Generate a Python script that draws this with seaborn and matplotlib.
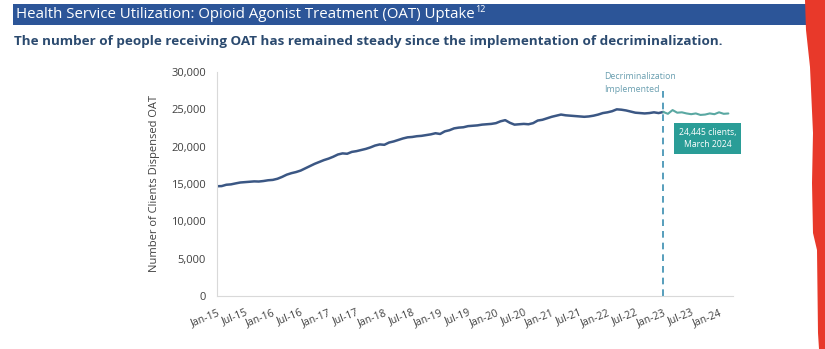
import matplotlib
matplotlib.use("Agg")
import matplotlib.pyplot as plt
import matplotlib.patches as mpatches
import seaborn as sns
import pandas as pd
import numpy as np

# ---- data ----
months_blue = list(range(0, 97))
values_blue = [14700, 14720, 14900, 14950, 15080, 15200, 15250, 15300, 15350, 15330,
               15400, 15500, 15550, 15700, 15950, 16250, 16450, 16600, 16800, 17100,
               17400, 17700, 17950, 18200, 18400, 18650, 18950, 19100, 19050, 19300,
               19400, 19550, 19700, 19900, 20150, 20300, 20250, 20550, 20700, 20900,
               21100, 21250, 21300, 21400, 21450, 21550, 21650, 21800, 21700, 22050,
               22200, 22450, 22550, 22600, 22750, 22800, 22850, 22950, 23000, 23050,
               23150, 23400, 23550, 23200, 22950, 23000, 23050, 23000, 23150, 23500,
               23600, 23800, 24000, 24150, 24300, 24200, 24150, 24100, 24050, 24000,
               24050, 24150, 24300, 24500, 24600, 24750, 25000, 24950, 24850, 24700,
               24550, 24500, 24450, 24500, 24600, 24500, 24650]
months_teal = list(range(96, 111))
values_teal = [24650, 24400, 24900, 24550, 24600, 24450, 24350, 24450, 24250, 24300,
               24450, 24350, 24600, 24400, 24445]
tick_months = list(range(0, 109, 6))
tick_labels = ["Jan-15", "Jul-15", "Jan-16", "Jul-16", "Jan-17", "Jul-17", "Jan-18",
               "Jul-18", "Jan-19", "Jul-19", "Jan-20", "Jul-20", "Jan-21", "Jul-21",
               "Jan-22", "Jul-22", "Jan-23", "Jul-23", "Jan-24"]
y_ticks = [0, 5000, 10000, 15000, 20000, 25000, 30000]
decrim_month = 96

sns.set_theme(style="white")
plt.rcParams["font.family"] = ["Open Sans", "DejaVu Sans"]

W, H = 825, 349
fig = plt.figure(figsize=(W / 100, H / 100), dpi=100)
fig.patch.set_facecolor("white")

def fx(px):
    return px / W

def fy(py):
    return 1 - py / H

ax = fig.add_axes([fx(217), fy(296), fx(733) - fx(217), fy(72) - fy(296)])

df_b = pd.DataFrame({"month": months_blue, "clients": values_blue})
df_t = pd.DataFrame({"month": months_teal, "clients": values_teal})
sns.lineplot(data=df_b, x="month", y="clients", ax=ax, color="#3b5784", linewidth=1.8)
sns.lineplot(data=df_t, x="month", y="clients", ax=ax, color="#5aa8a2", linewidth=1.5)

ax.set_xlim(0, 111)
ax.set_ylim(0, 30000)
ax.set_yticks(y_ticks)
ax.set_yticklabels([f"{v:,}" for v in y_ticks], fontsize=8, color="#404040")
ax.set_xticks(tick_months)
ax.set_xticklabels(tick_labels, rotation=22, ha="right", rotation_mode="anchor",
                   fontsize=7.5, color="#404040")
ax.tick_params(axis="x", length=3, color="#d9d9d9", width=0.8, pad=5)
ax.tick_params(axis="y", length=0, pad=8)
ax.set_xlabel("")
ax.set_ylabel("Number of Clients Dispensed OAT", fontsize=8, color="#404040", labelpad=8)
for s in ["top", "right"]:
    ax.spines[s].set_visible(False)
for s in ["left", "bottom"]:
    ax.spines[s].set_color("#d9d9d9")
    ax.spines[s].set_linewidth(0.8)

# decriminalization line
ax.plot([decrim_month, decrim_month], [0, 27800], color="#3a8db0", linewidth=1.2,
        linestyle=(0, (4, 3)))
ax.text(decrim_month - 12.7, 28500, "Decriminalization\nImplemented", fontsize=6.3,
        color="#6a9fb0", ha="left", va="center", linespacing=1.6)

# annotation box
ax.text(105.5, 21100, "24,445 clients,\nMarch 2024", fontsize=6.2, color="white",
        ha="center", va="center", linespacing=1.5,
        bbox=dict(boxstyle="square,pad=0.55", facecolor="#2a9d97", edgecolor="none"))

# header band
fig.patches.append(mpatches.Rectangle((fx(13), fy(25)), fx(808) - fx(13), fy(4) - fy(25),
                                      transform=fig.transFigure, facecolor="#2c5598",
                                      edgecolor="none", zorder=0))
t = fig.text(fx(16), fy(14.5), "Health Service Utilization: Opioid Agonist Treatment (OAT) Uptake",
             fontsize=10.8, color="white", ha="left", va="center", zorder=2)
fig.canvas.draw()
bb = t.get_window_extent(fig.canvas.get_renderer())
fig.text(bb.x1 / W + fx(1), fy(10), "12", fontsize=6.5, color="white", ha="left",
         va="center", zorder=2)

fig.text(fx(14), fy(42), "The number of people receiving OAT has remained steady since the implementation of decriminalization.",
         fontsize=9.7, fontweight="bold", color="#2b4a6f", ha="left", va="center")

# red edge shape
red_pts = [(805, 0), (825, 0), (825, 349), (819, 349), (818, 333), (817, 250),
           (813, 233), (812, 183), (813, 133), (810, 67), (806, 30)]
fig.patches.append(mpatches.Polygon([(fx(x), fy(y)) for x, y in red_pts], closed=True,
                                    transform=fig.transFigure, facecolor="#e8392a",
                                    edgecolor="none", zorder=3))

fig.savefig("out.png", dpi=100)
